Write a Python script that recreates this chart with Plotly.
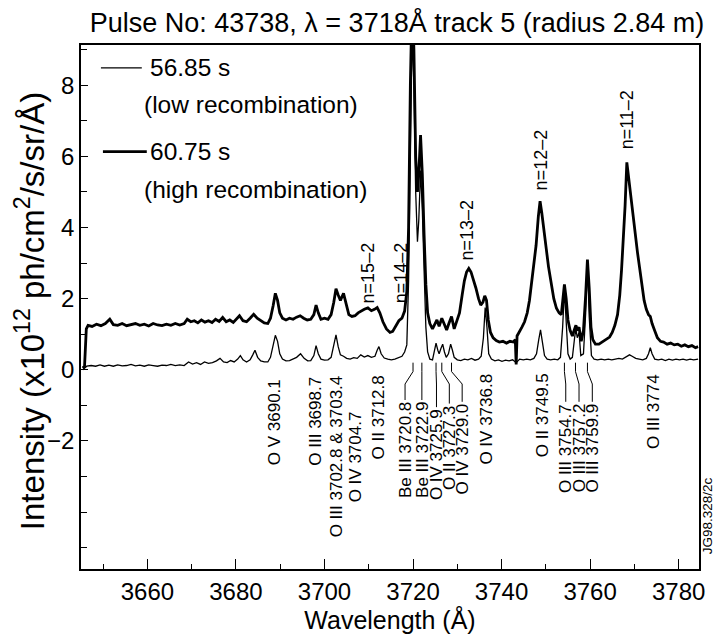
import plotly.graph_objects as go

# ---------------- data ----------------
wl_high = [3645.4, 3645.8, 3646.2, 3646.6, 3647.5, 3648.5, 3649.5, 3650.5, 3651.5, 3652.3,
           3653.3, 3654.3, 3655.3, 3656.3, 3657.3, 3658.3, 3659.3, 3660.3, 3661.3, 3662.3,
           3663.3, 3664.3, 3665.3, 3666.3, 3667.3, 3668.3, 3669.0, 3669.8, 3670.6, 3671.4,
           3672.2, 3673.0, 3673.8, 3674.6, 3675.4, 3676.2, 3677.0, 3677.8, 3678.6, 3679.4,
           3680.2, 3680.8, 3681.6, 3682.4, 3683.2, 3684.0, 3684.8, 3685.6, 3686.4, 3687.2,
           3687.8, 3688.4, 3688.9, 3689.4, 3689.9, 3690.5, 3691.3, 3692.1, 3692.9, 3693.7,
           3694.5, 3695.3, 3696.1, 3696.9, 3697.6, 3698.1, 3698.6, 3699.2, 3700.0, 3700.8,
           3701.5, 3702.1, 3702.6, 3703.1, 3703.6, 3704.3, 3704.9, 3705.5, 3706.2, 3706.9,
           3707.6, 3708.3, 3709.0, 3709.8, 3710.6, 3711.3, 3711.9, 3712.5, 3713.2, 3714.0,
           3714.8, 3715.4, 3716.0, 3716.8, 3717.5, 3718.1, 3718.6, 3719.0, 3719.4, 3719.8,
           3720.2, 3720.6, 3721.0, 3721.3, 3721.7, 3722.1, 3722.5, 3722.9, 3723.3, 3723.8,
           3724.4, 3725.0, 3725.4, 3725.9, 3726.5, 3727.0, 3727.6, 3728.1, 3728.7, 3729.3,
           3729.9, 3730.5, 3731.1, 3731.6, 3732.1, 3732.6, 3733.1, 3733.6, 3734.2, 3734.8,
           3735.3, 3735.8, 3736.2, 3736.6, 3737.0, 3737.5, 3738.1, 3738.8, 3739.5, 3740.3,
           3741.1, 3741.9, 3742.7, 3743.1, 3743.3, 3743.5, 3744.0, 3744.6, 3745.2, 3745.8,
           3746.3, 3746.8, 3747.3, 3747.8, 3748.3, 3748.7, 3749.1, 3749.6, 3750.1, 3750.6,
           3751.2, 3751.8, 3752.4, 3753.0, 3753.5, 3753.9, 3754.2, 3754.6, 3755.0, 3755.5,
           3756.0, 3756.5, 3756.8, 3757.1, 3757.5, 3758.0, 3758.5, 3759.0, 3759.4, 3759.8,
           3760.2, 3760.6, 3761.2, 3762.0, 3762.8, 3763.6, 3764.4, 3765.0, 3765.6, 3766.2,
           3766.7, 3767.1, 3767.5, 3767.9, 3768.3, 3768.7, 3769.2, 3769.7, 3770.2, 3770.7,
           3771.2, 3771.7, 3772.2, 3772.7, 3773.2, 3773.6, 3774.0, 3774.6, 3775.2, 3775.9,
           3776.6, 3777.4, 3778.2, 3779.0, 3779.8, 3780.6, 3781.4, 3782.2, 3783.0, 3783.8,
           3784.4]
int_high = [0.05, 0.1, 1.15, 1.25, 1.22, 1.28, 1.24, 1.3, 1.42, 1.27,
            1.25, 1.3, 1.24, 1.27, 1.3, 1.25, 1.28, 1.23, 1.3, 1.26,
            1.24, 1.28, 1.25, 1.3, 1.26, 1.3, 1.42, 1.35, 1.38, 1.32,
            1.4, 1.34, 1.38, 1.33, 1.42, 1.36, 1.47, 1.35, 1.4, 1.33,
            1.45, 1.52, 1.38, 1.35, 1.45, 1.56, 1.45, 1.38, 1.32, 1.3,
            1.45, 1.8, 2.15, 1.95, 1.6, 1.45, 1.4, 1.45, 1.42, 1.48,
            1.52, 1.45, 1.4, 1.42, 1.55, 1.82, 1.6, 1.42, 1.45, 1.42,
            1.55, 1.9, 2.28, 2.1, 1.95, 2.15, 1.85, 1.55, 1.5, 1.52,
            1.6, 1.66, 1.7, 1.74, 1.66, 1.7, 1.75, 1.6, 1.35, 1.15,
            1.05, 1.08, 1.2, 1.38, 1.45, 1.65, 2.2, 4.0, 8.0, 10.5,
            9.0, 6.0, 5.0, 5.5, 6.6, 5.5, 3.8, 2.4, 1.6, 1.3,
            1.15, 1.3, 1.4, 1.22, 1.45, 1.3, 1.12, 1.3, 1.5, 1.15,
            1.35, 1.6, 2.1, 2.5, 2.75, 2.85, 2.75, 2.55, 2.3, 2.0,
            1.82, 1.9, 2.08, 1.95, 1.4, 1.05, 0.9, 0.82, 0.78, 0.8,
            0.75, 0.8, 0.78, 0.85, 0.15, 0.95, 1.05, 1.2, 1.35, 1.6,
            1.95, 2.5, 3.0, 3.5, 4.3, 4.74, 4.4, 3.8, 3.4, 2.9,
            2.4, 2.0, 1.73, 1.6, 1.55, 2.0, 2.4, 2.0, 1.4, 1.1,
            0.95, 1.15, 1.25, 1.1, 1.2, 0.8, 1.1, 2.1, 3.1, 2.3,
            1.2, 0.85, 0.72, 0.72, 0.78, 0.85, 0.92, 1.05, 1.25, 1.55,
            2.1, 2.8, 3.6, 4.6, 5.83, 5.4, 4.8, 4.2, 3.8, 3.3,
            2.85, 2.35, 1.95, 1.7, 1.55, 1.5, 1.3, 1.1, 0.9, 0.8,
            0.78, 0.72, 0.75, 0.7, 0.72, 0.66, 0.7, 0.65, 0.68, 0.62,
            0.65]

wl_low = [3645.4, 3645.8, 3646.3, 3647.3, 3648.3, 3649.3, 3650.3, 3651.3, 3652.3, 3653.3,
          3654.3, 3655.3, 3656.3, 3657.3, 3658.3, 3659.3, 3660.3, 3661.3, 3662.3, 3663.3,
          3664.3, 3665.3, 3666.3, 3667.3, 3668.3, 3669.3, 3670.2, 3671.1, 3672.0, 3672.9,
          3673.8, 3674.7, 3675.6, 3676.4, 3677.2, 3678.0, 3678.8, 3679.6, 3680.4, 3681.0,
          3681.6, 3682.4, 3683.2, 3683.8, 3684.3, 3684.9, 3685.6, 3686.4, 3687.2, 3687.8,
          3688.4, 3688.9, 3689.4, 3689.9, 3690.5, 3691.3, 3692.1, 3692.9, 3693.7, 3694.6,
          3695.4, 3696.2, 3696.9, 3697.6, 3698.1, 3698.6, 3699.2, 3700.0, 3700.8, 3701.5,
          3702.1, 3702.6, 3703.1, 3703.6, 3704.3, 3705.0, 3705.8, 3706.6, 3707.4, 3708.2,
          3709.0, 3709.8, 3710.6, 3711.4, 3711.9, 3712.3, 3712.8, 3713.5, 3714.3, 3715.1,
          3715.9, 3716.7, 3717.5, 3718.1, 3718.6, 3719.0, 3719.4, 3719.8, 3720.2, 3720.6,
          3721.0, 3721.3, 3721.7, 3722.1, 3722.5, 3722.9, 3723.3, 3723.8, 3724.4, 3724.8,
          3725.2, 3725.6, 3725.9, 3726.3, 3726.7, 3727.1, 3727.5, 3728.0, 3728.5, 3728.9,
          3729.3, 3730.0, 3730.8, 3731.6, 3732.4, 3733.2, 3734.0, 3734.8, 3735.4, 3735.9,
          3736.3, 3736.7, 3737.1, 3737.7, 3738.5, 3739.3, 3740.1, 3740.9, 3741.7, 3742.5,
          3743.3, 3744.1, 3744.9, 3745.7, 3746.5, 3747.3, 3747.9, 3748.4, 3748.8, 3749.2,
          3749.7, 3750.3, 3751.1, 3751.9, 3752.7, 3753.3, 3753.8, 3754.2, 3754.6, 3755.0,
          3755.5, 3756.0, 3756.5, 3756.8, 3757.1, 3757.5, 3757.9, 3758.5, 3759.0, 3759.4,
          3759.8, 3760.3, 3760.9, 3761.7, 3762.5, 3763.3, 3764.1, 3764.9, 3765.7, 3766.5,
          3767.3, 3768.1, 3768.9, 3769.5, 3770.3, 3771.1, 3771.9, 3772.7, 3773.2, 3773.6,
          3774.0, 3774.6, 3775.4, 3776.2, 3777.0, 3777.8, 3778.6, 3779.4, 3780.2, 3781.0,
          3781.8, 3782.6, 3783.4, 3784.4]
int_low = [0.0, 0.05, 0.1, 0.12, 0.1, 0.14, 0.1, 0.13, 0.1, 0.14,
           0.11, 0.12, 0.15, 0.11, 0.13, 0.1, 0.14, 0.12, 0.1, 0.13,
           0.12, 0.15, 0.12, 0.14, 0.12, 0.22, 0.16, 0.2, 0.15, 0.22,
           0.18, 0.2, 0.25, 0.32, 0.22, 0.2, 0.26, 0.22, 0.3, 0.4,
           0.28, 0.22, 0.28, 0.42, 0.55, 0.35, 0.25, 0.22, 0.22, 0.35,
           0.7, 0.97, 0.8, 0.45, 0.3, 0.25, 0.26, 0.3, 0.35, 0.45,
           0.32, 0.25, 0.26, 0.4, 0.68, 0.45, 0.3, 0.27, 0.28, 0.35,
           0.65, 0.98, 0.65, 0.42, 0.38, 0.32, 0.3, 0.34, 0.32, 0.42,
           0.36, 0.4, 0.35, 0.38, 0.55, 0.65, 0.45, 0.33, 0.3, 0.28,
           0.3, 0.33, 0.38, 0.5, 0.7, 2.5, 6.5, 9.5, 8.0, 5.0,
           3.6, 4.2, 5.6, 4.5, 2.8, 1.2, 0.5, 0.3, 0.28, 0.5,
           0.75, 0.55, 0.45, 0.6, 0.72, 0.5, 0.35, 0.45, 0.72, 0.55,
           0.35, 0.28, 0.26, 0.3, 0.28, 0.32, 0.27, 0.3, 0.38, 0.9,
           1.75, 1.2, 0.45, 0.3, 0.25, 0.28, 0.24, 0.27, 0.25, 0.28,
           0.2, 0.3, 0.28, 0.3, 0.28, 0.32, 0.45, 0.85, 1.12, 0.8,
           0.4, 0.3, 0.28, 0.3, 0.28, 0.35, 1.2, 2.25, 1.4, 0.45,
           0.3, 0.35, 0.9, 1.15, 0.9, 1.05, 0.4, 0.45, 1.6, 2.95,
           1.5, 0.4, 0.3, 0.28, 0.3, 0.28, 0.3, 0.28, 0.3, 0.32,
           0.3, 0.35, 0.42, 0.38, 0.32, 0.3, 0.28, 0.32, 0.45, 0.62,
           0.45, 0.3, 0.28, 0.3, 0.26, 0.3, 0.27, 0.3, 0.28, 0.3,
           0.27, 0.3, 0.28, 0.3]

series_names = ["56.85 s", "60.75 s"]
series_notes = ["(low recombination)", "(high recombination)"]

line_ids = ["O V 3690.1", "O III 3698.7", "O III 3702.8 & 3703.4", "O IV 3704.7",
            "O II 3712.8", "Be III 3720.8", "Be III 3722.9", "O IV 3725.9",
            "O II 3727.3", "O IV 3729.0", "O IV 3736.8", "O II 3749.5",
            "O III 3754.7", "O III 3757.2", "O III 3759.9", "O III 3774"]
balmer_ids = ["n=15–2", "n=14–2", "n=13–2", "n=12–2", "n=11–2"]

x_ticks = [3660, 3680, 3700, 3720, 3740, 3760, 3780]
y_ticks = [-2, 0, 2, 4, 6, 8]

title_text = "Pulse No: 43738, λ = 3718Å track 5 (radius 2.84 m)"
x_title = "Wavelength (Å)"
y_title = "Intensity (x10<sup>12</sup> ph/cm<sup>2</sup>/s/sr/Å)"
stamp = "JG98.328/2c"

# ---------------- layout positions ----------------
id_x = [3688.9, 3698.1, 3702.6, 3707.1, 3712.1, 3718.2, 3722.0, 3725.3,
        3728.2, 3731.1, 3736.6, 3749.3, 3754.5, 3757.5, 3760.5, 3774.2]
id_top = [-0.2, -0.15, -0.1, -1.1, -0.1, -0.85, -0.85, -1.05,
          -0.95, -0.9, -0.05, -0.05, -0.9, -0.9, -0.9, -0.05]
leaders = [(5, 3720.0), (6, 3722.0), (7, 3725.2), (8, 3726.5), (9, 3728.7),
           (12, 3754.2), (13, 3756.7), (14, 3759.4)]
balmer_x = [3709.8, 3717.3, 3732.2, 3748.9, 3768.3]
balmer_bottom = [1.82, 1.8, 3.0, 5.0, 6.15]

FONT = "Liberation Sans, Arial, sans-serif"
W, H = 717, 640
ML, MR, MT, MB = 81, 16, 45, 69
PW, PH = W - ML - MR, H - MT - MB


def px(x):
    return (x - ML) / PW


def py(y):
    return (H - MB - y) / PH


fig = go.Figure()
fig.add_trace(go.Scatter(x=wl_low, y=int_low, mode="lines", name=series_names[0],
                         line=dict(color="black", width=1.3), showlegend=False))
fig.add_trace(go.Scatter(x=wl_high, y=int_high, mode="lines", name=series_names[1],
                         line=dict(color="black", width=2.8), showlegend=False))

ann = []
for t, x, top in zip(line_ids, id_x, id_top):
    ann.append(dict(x=x, y=top, xref="x", yref="y", text=t, showarrow=False,
                    textangle=-90, xanchor="center", yanchor="top",
                    font=dict(family=FONT, size=17, color="black")))
for t, x, b in zip(balmer_ids, balmer_x, balmer_bottom):
    ann.append(dict(x=x, y=b, xref="x", yref="y", text=t, showarrow=False,
                    textangle=-90, xanchor="center", yanchor="bottom",
                    font=dict(family=FONT, size=18, color="black")))

shapes = []
for idx, target in leaders:
    lx, top = id_x[idx], id_top[idx]
    path = (f"M{lx},{top} L{lx},{-0.4} L{target},{-0.05} L{target},{0.2}")
    shapes.append(dict(type="path", path=path, xref="x", yref="y",
                       line=dict(color="black", width=1)))

leg = [(101, 142, 68, 1.3), (103, 147, 152, 2.8)]
for (x0, x1, yy, w) in leg:
    shapes.append(dict(type="line", xref="paper", yref="paper", x0=px(x0), x1=px(x1),
                       y0=py(yy), y1=py(yy), line=dict(color="black", width=w)))
leg_txt = [(148, 68, series_names[0]), (142, 105, series_notes[0]),
           (148, 152, series_names[1]), (142, 190, series_notes[1])]
for (x, y, t) in leg_txt:
    ann.append(dict(x=px(x), y=py(y), xref="paper", yref="paper", text=t,
                    showarrow=False, xanchor="left", yanchor="middle",
                    font=dict(family=FONT, size=24.5, color="black")))

ann.append(dict(x=px(30), y=py(312), xref="paper", yref="paper", text=y_title,
                showarrow=False, textangle=-90, xanchor="center", yanchor="middle",
                font=dict(family=FONT, size=33, color="black")))
ann.append(dict(x=px(709), y=py(517), xref="paper", yref="paper", text=stamp,
                showarrow=False, textangle=-90, xanchor="center", yanchor="middle",
                font=dict(family=FONT, size=13.5, color="black")))

fig.update_layout(
    width=W, height=H,
    margin=dict(l=ML, r=MR, t=MT, b=MB),
    paper_bgcolor="white", plot_bgcolor="white",
    title=dict(text=title_text, x=397 / W, y=1 - 23 / H, xref="container",
               yref="container", xanchor="center", yanchor="middle",
               font=dict(family=FONT, size=27, color="black")),
    annotations=ann, shapes=shapes, showlegend=False,
    xaxis=dict(range=[3645.0, 3784.6], showgrid=False, zeroline=False,
               showline=True, mirror=True, linecolor="black", linewidth=1.5,
               ticks="inside", tickvals=x_ticks, ticklen=10, tickwidth=1.3,
               tickcolor="black",
               minor=dict(dtick=10, tick0=3650, ticks="inside", ticklen=5,
                          tickwidth=1.2, tickcolor="black", showgrid=False),
               tickfont=dict(family=FONT, size=24, color="black"),
               title=dict(text=x_title, standoff=6,
                          font=dict(family=FONT, size=25, color="black"))),
    yaxis=dict(range=[-5.6, 9.13], showgrid=False, zeroline=False,
               showline=True, mirror=True, linecolor="black", linewidth=1.5,
               ticks="inside", tickvals=y_ticks, ticklen=7, tickwidth=1.3,
               tickcolor="black",
               minor=dict(dtick=1, tick0=0, ticks="inside", ticklen=6,
                          tickwidth=1.2, tickcolor="black", showgrid=False),
               tickfont=dict(family=FONT, size=24, color="black")),
)

fig.write_html("out.html")
